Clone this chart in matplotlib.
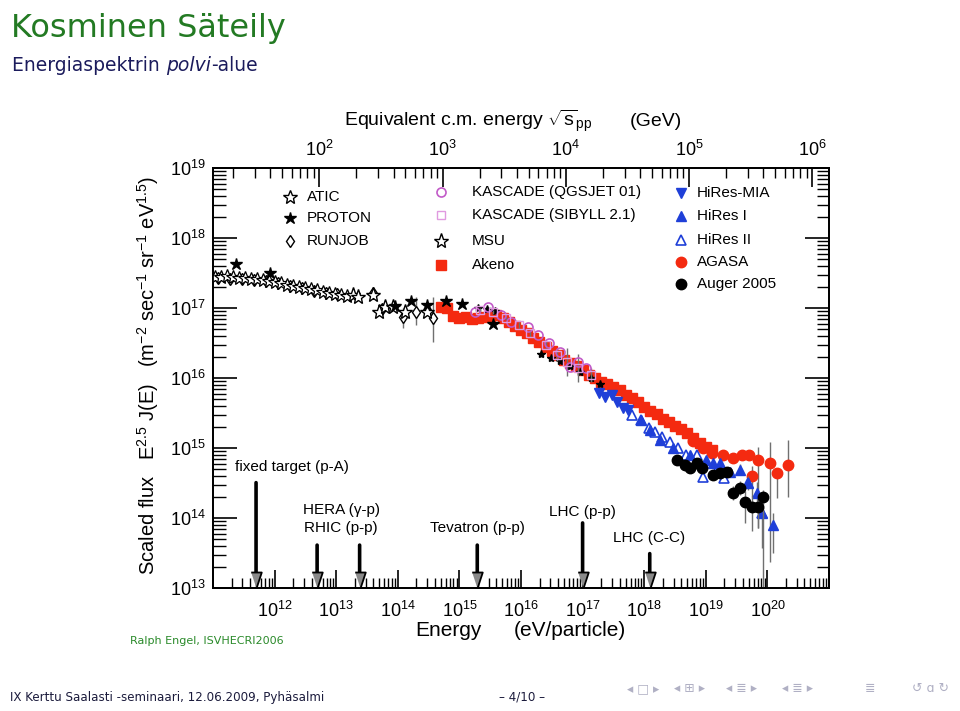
import numpy as np
import matplotlib
matplotlib.use('Agg')
import matplotlib.pyplot as plt
import matplotlib.transforms as mtrans
from matplotlib.ticker import LogLocator, FuncFormatter, NullFormatter

plt.rcParams['font.family'] = ['Liberation Sans', 'DejaVu Sans']
plt.rcParams['mathtext.fontset'] = 'custom'
plt.rcParams['mathtext.rm'] = 'Liberation Sans'
plt.rcParams['mathtext.it'] = 'Liberation Sans:italic'
plt.rcParams['mathtext.bf'] = 'Liberation Sans:bold'
plt.rcParams['mathtext.default'] = 'regular'

# ---------------- data: log10(E / eV), log10(E^2.5 J(E)) ----------------
atic_lE = [11.03, 11.13, 11.23, 11.32, 11.42, 11.52, 11.62, 11.71, 11.81, 11.91, 12.00, 12.10,
           12.20, 12.30, 12.39, 12.49, 12.59, 12.69, 12.78, 12.88, 12.98, 13.07, 13.17]
atic_lF = [17.44, 17.44, 17.46, 17.44, 17.43, 17.43, 17.41, 17.41, 17.40, 17.39, 17.37, 17.36,
           17.33, 17.31, 17.30, 17.29, 17.27, 17.26, 17.23, 17.21, 17.20, 17.19, 17.17]

proton_lE = [11.37, 11.93, 13.95, 14.21, 14.47, 14.78, 15.05, 15.55]
proton_lF = [17.63, 17.50, 17.03, 17.10, 17.04, 17.10, 17.06, 16.77]

runjob_lE = [11.08, 11.27, 11.47, 11.66, 11.86, 12.05, 12.25, 12.44, 12.64, 12.83, 13.02,
             13.59, 13.75, 14.08, 14.29, 14.57]
runjob_lF = [17.43, 17.42, 17.42, 17.40, 17.38, 17.36, 17.31, 17.29, 17.25, 17.22, 17.20,
             17.21, 16.98, 16.87, 16.94, 16.86]
runjob_elo = [0.02, 0.02, 0.02, 0.02, 0.02, 0.02, 0.02, 0.02, 0.03, 0.03, 0.03,
              0.05, 0.08, 0.16, 0.18, 0.35]
runjob_ehi = [0.02, 0.02, 0.02, 0.02, 0.02, 0.02, 0.02, 0.02, 0.03, 0.03, 0.03,
              0.05, 0.08, 0.13, 0.22, 0.30]

msu_lE = [13.27, 13.36, 13.59, 13.69, 13.80, 13.92, 14.11, 14.48]
msu_lF = [17.19, 17.16, 17.19, 16.94, 17.01, 17.01, 16.94, 16.94]

knee_lE = [15.31, 15.44, 15.57, 16.32, 16.48, 16.64, 16.80, 16.96, 17.13, 17.29]
knee_lF = [17.00, 16.99, 16.96, 16.34, 16.29, 16.24, 16.17, 16.09, 16.00, 15.91]

akeno_lE = [14.70, 14.80, 14.90, 15.00, 15.10, 15.20, 15.30, 15.40, 15.50, 15.60, 15.70, 15.80,
            15.90, 16.00, 16.10, 16.20, 16.30, 16.40, 16.50, 16.60, 16.70, 16.80, 16.90, 17.00,
            17.10, 17.20, 17.30, 17.40, 17.50, 17.60, 17.70, 17.80, 17.90, 18.00, 18.10, 18.20,
            18.30, 18.40, 18.50, 18.60, 18.70, 18.80, 18.90, 19.00, 19.10]
akeno_lF = [17.01, 17.00, 16.88, 16.86, 16.87, 16.85, 16.86, 16.87, 16.88, 16.90, 16.86, 16.80,
            16.74, 16.69, 16.64, 16.57, 16.52, 16.45, 16.39, 16.33, 16.26, 16.22, 16.17, 16.12,
            16.05, 16.00, 15.95, 15.91, 15.87, 15.83, 15.76, 15.72, 15.66, 15.59, 15.53, 15.48,
            15.42, 15.37, 15.32, 15.27, 15.21, 15.15, 15.07, 15.02, 14.97]

kq_lE = [15.26, 15.46, 15.67, 15.83, 16.11, 16.28, 16.45, 16.64, 16.80, 16.93, 17.06]
kq_lF = [16.94, 17.01, 16.90, 16.80, 16.73, 16.61, 16.50, 16.37, 16.16, 16.23, 16.14]

ks_lE = [15.34, 15.55, 15.75, 15.96, 16.15, 16.40, 16.59, 16.75, 16.93, 17.13]
ks_lF = [16.97, 16.94, 16.86, 16.76, 16.64, 16.47, 16.33, 16.23, 16.14, 16.04]
ks_err = [0.03, 0.03, 0.03, 0.04, 0.05, 0.06, 0.08, 0.20, 0.20, 0.10]

mia_lE = [17.26, 17.37, 17.48, 17.56, 17.66, 17.74]
mia_lF = [15.79, 15.73, 15.76, 15.66, 15.57, 15.54]

hr1_lE = [17.94, 18.10, 18.26, 18.47, 18.75, 19.01, 19.12, 19.23, 19.40, 19.56, 19.69, 19.83, 19.91, 20.09]
hr1_lF = [15.40, 15.26, 15.11, 15.00, 14.90, 14.83, 14.79, 14.79, 14.66, 14.69, 14.50, 14.36, 14.07, 13.90]
hr1_elo = [0.02, 0.02, 0.02, 0.02, 0.03, 0.03, 0.04, 0.05, 0.06, 0.08, 0.10, 0.20, 0.50, 0.40]
hr1_ehi = [0.02, 0.02, 0.02, 0.02, 0.03, 0.03, 0.04, 0.05, 0.06, 0.08, 0.10, 0.15, 0.30, 0.17]

hr2_lE = [17.81, 17.94, 18.07, 18.18, 18.29, 18.42, 18.55, 18.68, 18.86, 18.96, 19.17, 19.30, 19.69, 19.91]
hr2_lF = [15.47, 15.40, 15.29, 15.23, 15.16, 15.09, 15.00, 14.90, 14.90, 14.59, 14.66, 14.57, 14.50, 14.07]

agasa_lE = [18.80, 18.95, 19.10, 19.28, 19.44, 19.59, 19.70, 19.75, 19.85, 20.04, 20.16, 20.34]
agasa_lF = [15.10, 15.00, 14.93, 14.90, 14.86, 14.90, 14.90, 14.60, 14.83, 14.79, 14.64, 14.76]
agasa_elo = [0.02, 0.02, 0.03, 0.03, 0.04, 0.05, 0.06, 0.30, 0.97, 1.42, 0.35, 0.46]
agasa_ehi = [0.02, 0.02, 0.03, 0.03, 0.04, 0.05, 0.06, 0.15, 0.18, 0.30, 0.07, 0.35]

auger_lE = [18.54, 18.67, 18.75, 18.86, 18.94, 19.12, 19.23, 19.35, 19.44, 19.56, 19.64, 19.75, 19.85, 19.93]
auger_lF = [14.83, 14.76, 14.71, 14.79, 14.71, 14.61, 14.64, 14.66, 14.36, 14.43, 14.23, 14.16, 14.16, 14.30]
auger_elo = [0.03, 0.03, 0.03, 0.03, 0.03, 0.03, 0.03, 0.03, 0.10, 0.10, 0.30, 0.35, 0.30, 1.40]
auger_ehi = [0.03, 0.03, 0.03, 0.03, 0.03, 0.03, 0.03, 0.03, 0.10, 0.10, 0.15, 0.15, 0.10, 0.10]

# accelerator energies (eV) and labels
arrow_E = [5.0e11, 4.9e12, 2.4e13, 1.95e15, 1.0e17, 1.23e18]
arrow_top = [3.2e14, 4.1e13, 4.1e13, 4.1e13, 8.5e13, 3.1e13]
acc_labels = ['fixed target (p-A)', 'HERA (\u03b3-p)', 'RHIC (p-p)', 'Tevatron (p-p)',
              'LHC (p-p)', 'LHC (C-C)']

m_p = 0.938  # GeV

# ---------------- figure ----------------
W, H = 960, 711
fig = plt.figure(figsize=(9.6, 7.11), dpi=100)
fig.patch.set_facecolor('white')

AX_L, AX_R, AX_T, AX_B = 213, 829, 168, 588
ax = fig.add_axes([AX_L / W, 1 - AX_B / H, (AX_R - AX_L) / W, (AX_B - AX_T) / H])
ax.set_xscale('log')
ax.set_yscale('log')
ax.set_xlim(1e11, 1e21)
ax.set_ylim(1e13, 1e19)

RED = '#f42a10'
BLUE = '#1f3fd8'
MAG = '#c25ac8'
PINK = '#e09ae0'
ECOL = '#707070'


def pw(a):
    return 10 ** np.asarray(a, dtype=float)


def errs(lF, lo, hi):
    F = pw(lF)
    return [F - pw(np.asarray(lF) - np.asarray(lo)), pw(np.asarray(lF) + np.asarray(hi)) - F]


# low-energy direct measurements
ax.errorbar(pw(runjob_lE), pw(runjob_lF), yerr=errs(runjob_lF, runjob_elo, runjob_ehi),
            fmt='d', ms=6, mfc='white', mec='black', mew=1.0, ecolor=ECOL, elinewidth=1,
            capsize=0, zorder=3)
ax.plot(pw(atic_lE), pw(atic_lF), ls='none', marker='*', ms=10, mfc='white', mec='black',
        mew=0.9, zorder=4)
ax.plot(pw(msu_lE), pw(msu_lF), ls='none', marker='*', ms=11, mfc='white', mec='black',
        mew=1.0, zorder=4)
ax.plot(pw(proton_lE), pw(proton_lF), ls='none', marker='*', ms=9, color='black', zorder=4)

# knee region
ax.plot(pw(akeno_lE), pw(akeno_lF), ls='none', marker='s', ms=7.5, color=RED, mec=RED, zorder=3)
ax.plot(pw(knee_lE), pw(knee_lF), ls='none', marker='*', ms=6, color='black', zorder=4)
ax.errorbar(pw(ks_lE), pw(ks_lF), yerr=errs(ks_lF, ks_err, ks_err), fmt='s', ms=6,
            mfc='none', mec=PINK, mew=1.0, ecolor=ECOL, elinewidth=1, capsize=0, zorder=4)
ax.plot(pw(kq_lE), pw(kq_lF), ls='none', marker='o', ms=6.5, mfc='none', mec=MAG, mew=1.2,
        zorder=4)

# ultra-high energy
ax.plot(pw(mia_lE), pw(mia_lF), ls='none', marker='v', ms=7, color=BLUE, zorder=4)
ax.errorbar(pw(hr1_lE), pw(hr1_lF), yerr=errs(hr1_lF, hr1_elo, hr1_ehi), fmt='^', ms=7,
            color=BLUE, ecolor=ECOL, elinewidth=1, capsize=0, zorder=4)
ax.plot(pw(hr2_lE), pw(hr2_lF), ls='none', marker='^', ms=7.5, mfc='white', mec=BLUE,
        mew=1.2, zorder=4)
ax.errorbar(pw(agasa_lE), pw(agasa_lF), yerr=errs(agasa_lF, agasa_elo, agasa_ehi), fmt='o',
            ms=7.5, color=RED, ecolor=ECOL, elinewidth=1, capsize=0, zorder=3)
ax.errorbar(pw(auger_lE), pw(auger_lF), yerr=errs(auger_lF, auger_elo, auger_ehi), fmt='o',
            ms=7.5, color='black', ecolor=ECOL, elinewidth=1, capsize=0, zorder=5)

# ---------------- axes styling ----------------
for s in ax.spines.values():
    s.set_linewidth(1.3)

ax.xaxis.set_major_locator(LogLocator(base=10, numticks=30))
ax.xaxis.set_minor_locator(LogLocator(base=10, subs=np.arange(2, 10), numticks=30))
ax.yaxis.set_major_locator(LogLocator(base=10, numticks=30))
ax.yaxis.set_minor_locator(LogLocator(base=10, subs=np.arange(2, 10), numticks=30))


def xfmt(v, p):
    e = int(round(np.log10(v)))
    if e <= 11 or e >= 21:
        return ''
    return r'$10^{%d}$' % e


def yfmt(v, p):
    e = int(round(np.log10(v)))
    return r'$10^{%d}$' % e


ax.xaxis.set_major_formatter(FuncFormatter(xfmt))
ax.xaxis.set_minor_formatter(NullFormatter())
ax.yaxis.set_major_formatter(FuncFormatter(yfmt))
ax.yaxis.set_minor_formatter(NullFormatter())
ax.tick_params(axis='both', which='both', direction='in', labelsize=13)
ax.tick_params(axis='x', which='major', length=13, width=1.2, pad=9, top=False)
ax.tick_params(axis='x', which='minor', length=7, width=1.0, top=False)
ax.tick_params(axis='y', which='major', length=17, width=1.2, pad=5, right=True)
ax.tick_params(axis='y', which='minor', length=9, width=1.0, right=True)

ax2 = ax.twiny()
ax2.set_xscale('log')
ax2.set_xlim(np.sqrt(2 * m_p * 1e11 / 1e9), np.sqrt(2 * m_p * 1e21 / 1e9))
ax2.xaxis.set_major_locator(LogLocator(base=10, numticks=30))
ax2.xaxis.set_minor_locator(LogLocator(base=10, subs=np.arange(2, 10), numticks=30))
ax2.xaxis.set_major_formatter(FuncFormatter(yfmt))
ax2.xaxis.set_minor_formatter(NullFormatter())
ax2.tick_params(axis='x', which='major', direction='in', length=14, width=1.2, labelsize=13, pad=6)
ax2.tick_params(axis='x', which='minor', direction='in', length=7, width=1.0)
for s in ax2.spines.values():
    s.set_linewidth(1.3)

# ---------------- legend (manual) ----------------
lt = ax.transAxes
leg_fs = 11


def leg(x, y, dx, label, **kw):
    ax.plot([x], [y], transform=lt, ls='none', clip_on=False, zorder=6, **kw)
    ax.text(x + dx, y, label, transform=lt, fontsize=leg_fs, va='center', ha='left')


leg(0.125, 0.932, 0.028, 'ATIC', marker='*', ms=10, mfc='white', mec='black', mew=1.0)
leg(0.125, 0.881, 0.028, 'PROTON', marker='*', ms=9, color='black')
leg(0.125, 0.827, 0.028, 'RUNJOB', marker='d', ms=6, mfc='white', mec='black', mew=1.0)
leg(0.370, 0.943, 0.050, 'KASCADE (QGSJET 01)', marker='o', ms=6.5, mfc='none', mec=MAG, mew=1.2)
leg(0.370, 0.888, 0.050, 'KASCADE (SIBYLL 2.1)', marker='s', ms=6, mfc='none', mec=PINK, mew=1.0)
leg(0.370, 0.827, 0.050, 'MSU', marker='*', ms=11, mfc='white', mec='black', mew=1.0)
leg(0.370, 0.769, 0.050, 'Akeno', marker='s', ms=7.5, color=RED)
leg(0.760, 0.940, 0.026, 'HiRes-MIA', marker='v', ms=7, color=BLUE)
leg(0.760, 0.886, 0.026, 'HiRes I', marker='^', ms=7, color=BLUE)
leg(0.760, 0.829, 0.026, 'HiRes II', marker='^', ms=7.5, mfc='white', mec=BLUE, mew=1.2)
leg(0.760, 0.776, 0.026, 'AGASA', marker='o', ms=7.5, color=RED)
leg(0.760, 0.724, 0.026, 'Auger 2005', marker='o', ms=7.5, color='black')

# ---------------- accelerator arrows ----------------
bt = mtrans.blended_transform_factory(ax.transData, ax.transAxes)
head = [(-0.33, 0.5), (0.33, 0.5), (0.0, -0.5)]
for E, top in zip(arrow_E, arrow_top):
    ax.annotate('', xy=(E, 0.03), xycoords=bt, xytext=(E, top), textcoords='data',
                arrowprops=dict(arrowstyle='-', lw=2.6, color='black', shrinkA=0, shrinkB=0),
                zorder=6)
    ax.plot([E], [0.019], transform=bt, marker=head, ms=11.5, mfc='#8a8a8a', mec='black',
            mew=1.3, ls='none', clip_on=False, zorder=7)

acc_fs = 11
ax.text(0.036, 0.288, acc_labels[0], transform=lt, fontsize=acc_fs, ha='left', va='center')
ax.text(0.208, 0.186, acc_labels[1], transform=lt, fontsize=acc_fs, ha='center', va='center')
ax.text(0.208, 0.143, acc_labels[2], transform=lt, fontsize=acc_fs, ha='center', va='center')
ax.text(0.430, 0.143, acc_labels[3], transform=lt, fontsize=acc_fs, ha='center', va='center')
ax.text(0.599, 0.181, acc_labels[4], transform=lt, fontsize=acc_fs, ha='center', va='center')
ax.text(0.708, 0.119, acc_labels[5], transform=lt, fontsize=acc_fs, ha='center', va='center')

# ---------------- axis labels ----------------
fig.text(148 / W, 1 - 375 / H,
         r'Scaled flux   E$^{2.5}$ J(E)   (m$^{-2}$ sec$^{-1}$ sr$^{-1}$ eV$^{1.5}$)',
         rotation=90, ha='center', va='center', fontsize=14.5)
fig.text(448 / W, 1 - 631 / H, 'Energy', ha='center', va='center', fontsize=15)
fig.text(570 / W, 1 - 631 / H, '(eV/particle)', ha='center', va='center', fontsize=15)
fig.text(468 / W, 1 - 121 / H, r'Equivalent c.m. energy $\sqrt{s}_{pp}$', ha='center',
         va='center', fontsize=14)
fig.text(656 / W, 1 - 121 / H, '(GeV)', ha='center', va='center', fontsize=14)
fig.text(130 / W, 1 - 641 / H, 'Ralph Engel, ISVHECRI2006', ha='left', va='center',
         fontsize=8, color='#2a8a2a', family=['DejaVu Sans'])

# ---------------- slide frame texts ----------------
SL = ['DejaVu Sans']
fig.text(11 / W, 1 - 37 / H, 'Kosminen S\u00e4teily', ha='left', va='baseline',
         fontsize=23, color='#237a23', family=SL)
t1 = fig.text(12 / W, 1 - 71 / H, 'Energiaspektrin ', ha='left', va='baseline',
              fontsize=13.5, color='#1b1b5c', family=SL)
fig.canvas.draw()
r = fig.canvas.get_renderer()
bb = t1.get_window_extent(r)
t2 = fig.text(bb.x1 / W, 1 - 71 / H, 'polvi', ha='left', va='baseline', fontsize=13.5,
              color='#1b1b5c', family=SL, style='italic')
bb2 = t2.get_window_extent(r)
fig.text(bb2.x1 / W, 1 - 71 / H, '-alue', ha='left', va='baseline', fontsize=13.5,
         color='#1b1b5c', family=SL)

fig.text(10 / W, 1 - 697 / H, 'IX Kerttu Saalasti -seminaari, 12.06.2009, Pyh\u00e4salmi',
         ha='left', va='center', fontsize=8.6, color='#1b1b3c', family=SL)
fig.text(522 / W, 1 - 697 / H, '\u2013 4/10 \u2013', ha='center', va='center', fontsize=8.6,
         color='#1b1b3c', family=SL)
NAV = '#b0b0c4'
nav_items = [(643, '\u25c2 \u25a1 \u25b8'), (690, '\u25c2 \u229e \u25b8'),
             (742, '\u25c2 \u2263 \u25b8'), (797, '\u25c2 \u2263 \u25b8'),
             (870, '\u2263'), (930, '\u21ba \u0251 \u21bb')]
for xp, s in nav_items:
    fig.text(xp / W, 1 - 689 / H, s, ha='center', va='center', fontsize=9, color=NAV,
             family=['DejaVu Sans'])

fig.savefig('out.png', dpi=100, facecolor='white')
